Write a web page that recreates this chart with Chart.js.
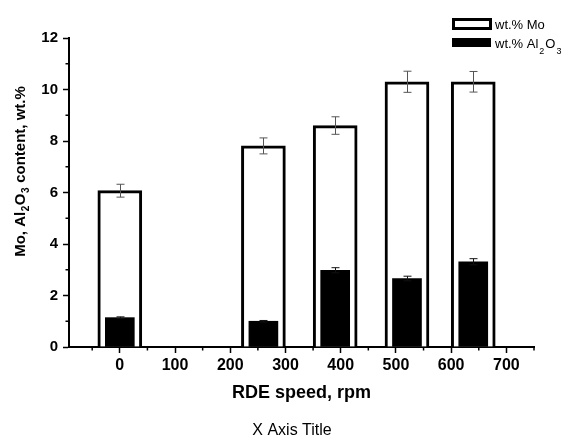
<!DOCTYPE html>
<html><head><meta charset="utf-8">
<script src="https://cdn.jsdelivr.net/npm/chart.js@4.4.0/dist/chart.umd.min.js"></script>
<style>html,body{margin:0;padding:0;background:#fff}#wrap{width:575px;height:439px}</style>
</head><body><div id="wrap"><canvas id="c" width="575" height="439"></canvas></div>
<script>
// ---- data ----
const speeds = [0, 260, 390, 520, 640];
const moValues = [6.07, 7.81, 8.60, 10.30, 10.30];
const moErrors = [0.25, 0.31, 0.34, 0.41, 0.40];
const alValues = [1.14, 1.00, 2.98, 2.66, 3.31];
const alErrors = [0.03, 0.03, 0.10, 0.09, 0.12];
const xTickLabels = [0, 100, 200, 300, 400, 500, 600, 700];
const yTickLabels = [0, 2, 4, 6, 8, 10, 12];
const seriesNames = ['wt.% Mo', 'wt.% Al₂O₃'];
const xTitle = 'RDE speed, rpm';
const yTitle = 'Mo, Al₂O₃ content, wt.%';
const bottomTitle = 'X Axis Title';

const FONT = "'Liberation Sans', Arial, Helvetica, sans-serif";

function splitSub(str) {
  const parts = [];
  for (const ch of str) {
    const sub = ch === '₂' ? '2' : ch === '₃' ? '3' : null;
    const isSub = sub !== null;
    const c = isSub ? sub : ch;
    const last = parts[parts.length - 1];
    if (last && last.sub === isSub) last.t += c; else parts.push({ t: c, sub: isSub });
  }
  return parts;
}
function richWidth(ctx, parts, size, subSize, weight, gap) {
  let w = 0;
  for (const p of parts) {
    ctx.font = `${weight} ${p.sub ? subSize : size}px ${FONT}`;
    w += ctx.measureText(p.t).width + (p.sub ? gap * 2 : 0);
  }
  return w;
}
function drawRich(ctx, parts, x, y, size, subSize, weight, shift, gap) {
  let cx = x;
  ctx.textBaseline = 'alphabetic';
  ctx.textAlign = 'left';
  for (const p of parts) {
    ctx.font = `${weight} ${p.sub ? subSize : size}px ${FONT}`;
    if (p.sub) cx += gap;
    ctx.fillText(p.t, cx, y + (p.sub ? shift : 0));
    cx += ctx.measureText(p.t).width + (p.sub ? gap : 0);
  }
}

const errorMap = { 0: { err: alErrors, color: '#111' }, 1: { err: moErrors, color: '#555' } };

const extras = {
  id: 'extras',
  afterDatasetsDraw(chart) {
    const ctx = chart.ctx, xs = chart.scales.x, ys = chart.scales.y;
    ctx.save();
    chart.data.datasets.forEach((ds, di) => {
      const e = errorMap[di];
      ctx.strokeStyle = e.color;
      ctx.lineWidth = 1;
      ds.data.forEach((pt, i) => {
        const px = Math.round(xs.getPixelForValue(pt.x)) + 0.5;
        const yt = ys.getPixelForValue(pt.y + e.err[i]);
        const yb = ys.getPixelForValue(pt.y - e.err[i]);
        ctx.beginPath();
        ctx.moveTo(px, yt); ctx.lineTo(px, yb);
        ctx.moveTo(px - 4, yt); ctx.lineTo(px + 4, yt);
        ctx.moveTo(px - 4, yb); ctx.lineTo(px + 4, yb);
        ctx.stroke();
      });
    });
    ctx.restore();
  },
  afterDraw(chart) {
    const ctx = chart.ctx, xs = chart.scales.x, ys = chart.scales.y, ca = chart.chartArea;
    ctx.save();
    // minor ticks
    ctx.strokeStyle = '#000';
    ctx.lineWidth = 1.5;
    for (let v = -50; v <= xs.max; v += 100) {
      if (v < xs.min) continue;
      const px = xs.getPixelForValue(v);
      ctx.beginPath(); ctx.moveTo(px, ca.bottom); ctx.lineTo(px, ca.bottom + 3.5); ctx.stroke();
    }
    for (let v = 1; v < ys.max; v += 2) {
      const py = ys.getPixelForValue(v);
      ctx.beginPath(); ctx.moveTo(ca.left, py); ctx.lineTo(ca.left - 3.5, py); ctx.stroke();
    }
    ctx.fillStyle = '#000';
    // y title (rotated, with subscripts)
    const yParts = splitSub(yTitle);
    const yw = richWidth(ctx, yParts, 15, 10, 'bold', 0.5);
    ctx.save();
    ctx.translate(25, 171.5);
    ctx.rotate(-Math.PI / 2);
    drawRich(ctx, yParts, -yw / 2, 0, 15, 10, 'bold', 4, 0.5);
    ctx.restore();
    // bottom title
    ctx.font = `16px ${FONT}`;
    ctx.textAlign = 'center';
    ctx.textBaseline = 'middle';
    ctx.fillText(bottomTitle, 292, 431);
    // legend
    ctx.fillStyle = '#fff';
    ctx.fillRect(453, 19, 38, 10);
    ctx.strokeStyle = '#000';
    ctx.lineWidth = 3;
    ctx.strokeRect(453.5, 19.5, 37, 9);
    ctx.fillStyle = '#000';
    ctx.fillRect(452, 38, 39, 9);
    drawRich(ctx, splitSub(seriesNames[0]), 495, 29, 13, 9, 'normal', 6, 1);
    drawRich(ctx, splitSub(seriesNames[1]), 495, 47.5, 13, 9, 'normal', 6, 1);
    ctx.restore();
  }
};

Chart.defaults.color = '#000';
Chart.defaults.font.family = FONT;

new Chart(document.getElementById('c'), {
  type: 'bar',
  data: {
    datasets: [
      { label: seriesNames[1], data: speeds.map((x, i) => ({ x, y: alValues[i] })),
        backgroundColor: '#000', borderWidth: 0, barThickness: 29, order: 0 },
      { label: seriesNames[0], data: speeds.map((x, i) => ({ x, y: moValues[i] })),
        backgroundColor: '#fff', borderColor: '#000', borderWidth: 3, borderSkipped: 'start',
        barThickness: 44, order: 1 }
    ]
  },
  options: {
    responsive: false,
    animation: false,
    devicePixelRatio: 1,
    events: [],
    datasets: { bar: { grouped: false } },
    layout: { padding: { left: 0, right: 41, top: 38, bottom: 0 } },
    plugins: { legend: { display: false }, tooltip: { enabled: false }, title: { display: false } },
    scales: {
      x: {
        type: 'linear', min: -92, max: 750, offset: false,
        ticks: { stepSize: 100, includeBounds: false, autoSkip: false, maxRotation: 0, minRotation: 0, padding: 3,
          color: '#000', font: { family: FONT, size: 16, weight: 'bold' },
          callback: v => xTickLabels.includes(v) ? String(v) : '' },
        grid: { display: true, drawOnChartArea: false, drawTicks: true, tickLength: 6, tickWidth: 1.5, tickColor: '#000', offset: false },
        border: { display: true, color: '#000', width: 2 },
        title: { display: true, text: xTitle, color: '#000', font: { family: FONT, size: 18, weight: 'bold' }, padding: { top: 0, bottom: 35 } },
        afterFit: s => { s.height = 92; }
      },
      y: {
        min: 0, max: 12,
        ticks: { stepSize: 2, padding: 5, color: '#000', font: { family: FONT, size: 15, weight: 'bold' },
          callback: v => yTickLabels.includes(v) ? String(v) : '' },
        grid: { display: true, drawOnChartArea: false, drawTicks: true, tickLength: 6, tickWidth: 1.5, tickColor: '#000' },
        border: { display: true, color: '#000', width: 2 },
        afterFit: s => { s.width = 69; }
      }
    }
  },
  plugins: [extras]
});
</script></body></html>
